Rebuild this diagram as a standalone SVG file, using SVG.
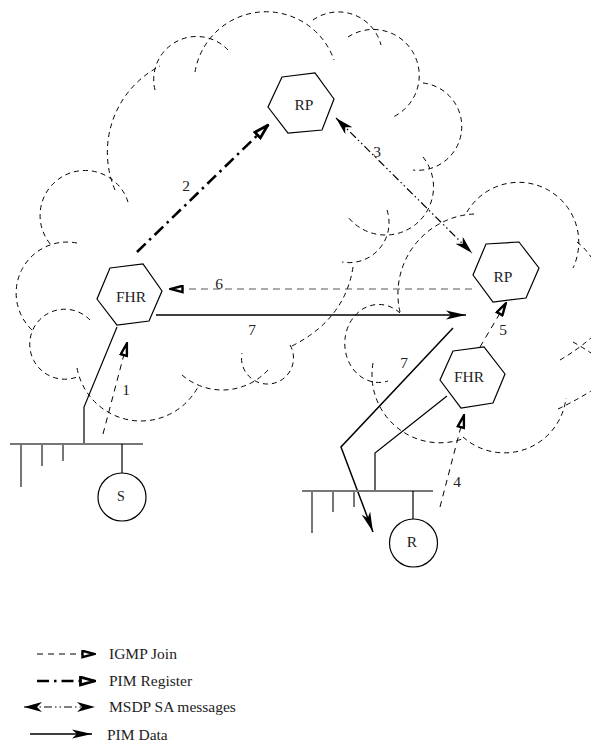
<svg xmlns="http://www.w3.org/2000/svg" width="591" height="743" viewBox="0 0 591 743">
<style>
.cloud{fill:none;stroke:#000;stroke-width:1;stroke-dasharray:5 4}
.hex{fill:#fff;stroke:#000;stroke-width:1.2}
.lbl{font-family:"Liberation Serif",serif;font-size:15.5px;fill:#222;text-anchor:middle}
.leg{font-family:"Liberation Serif",serif;font-size:15.5px;fill:#222}
.igmp{fill:none;stroke:#000;stroke-width:1;stroke-dasharray:6 5}
.reg{fill:none;stroke:#000;stroke-width:2.6;stroke-dasharray:12 5 2.5 5}
.msdp{fill:none;stroke:#000;stroke-width:1.2;stroke-dasharray:8 3 1.5 3 1.5 3}
.data{fill:none;stroke:#000;stroke-width:1.5}
.wire{fill:none;stroke:#000;stroke-width:1.2}
.bus{fill:none;stroke:#777;stroke-width:2}
</style>
<defs>
<marker id="mIgmp" viewBox="0 0 15 9" refX="14" refY="4.5" markerWidth="15" markerHeight="9" orient="auto" markerUnits="userSpaceOnUse">
<path d="M1.5,1.3 L13.5,4.5 L1.5,7.7 z" fill="#fff" stroke="#000" stroke-width="2.4"/>
</marker>
<marker id="mReg" viewBox="0 0 17 11" refX="16" refY="5.5" markerWidth="17" markerHeight="11" orient="auto" markerUnits="userSpaceOnUse">
<path d="M1.5,1.6 L15.5,5.5 L1.5,9.4 z" fill="#fff" stroke="#000" stroke-width="2.8"/>
</marker>
<marker id="mMsdp" viewBox="0 0 18 10" refX="18" refY="5" markerWidth="18" markerHeight="10" orient="auto-start-reverse" markerUnits="userSpaceOnUse">
<path d="M0,0 L18,5 L0,10 L5,5 z" fill="#000"/>
</marker>
<marker id="mData" viewBox="0 0 20 10" refX="20" refY="5" markerWidth="20" markerHeight="10" orient="auto" markerUnits="userSpaceOnUse">
<path d="M0,0.5 L20,5 L0,9.5 L5,5 z" fill="#000"/>
</marker>
</defs>

<g id="clouds">
<path class="cloud" d="M128,202 A45,45 0 1 0 52,246"/>
<path class="cloud" d="M115,190 A97,97 0 0 1 160,66"/>
<path class="cloud" d="M155,90 A43,43 0 0 1 228,50"/>
<path class="cloud" d="M195,72 A72,72 0 0 1 334,60"/>
<path class="cloud" d="M313,20 A44,44 0 0 1 381,45"/>
<path class="cloud" d="M348,37 A46,46 0 1 1 393,117"/>
<path class="cloud" d="M423,83 A43,43 0 0 1 413,170"/>
<path class="cloud" d="M423,157 A45,45 0 1 1 348,217"/>
<path class="cloud" d="M387,210 A40,40 0 0 1 342,262"/>
<path class="cloud" d="M353,267 Q345,320 290,347"/>
<path class="cloud" d="M290,345 A26,26 0 1 1 242,353"/>
<path class="cloud" d="M182,375 A62,62 0 0 0 268,370"/>
<path class="cloud" d="M77,368 A65,65 0 0 0 198,387"/>
<path class="cloud" d="M90,320 A35,35 0 1 0 77,377"/>
<path class="cloud" d="M77,243 A51,51 0 0 0 32,330"/>
<path class="cloud" d="M467,212 A60,60 0 0 1 573,268"/>
<path class="cloud" d="M474,214 A80,80 0 0 0 400,312"/>
<path class="cloud" d="M400,313 A34,39 0 1 0 388,381"/>
<path class="cloud" d="M373,363 A68,68 0 0 0 465,438"/>
<path class="cloud" d="M463,437 A62,62 0 0 0 566,398"/>
<path class="cloud" d="M558,409 Q575,401 591,391"/>
<path class="cloud" d="M560,360 Q577,350 591,338"/>
<path class="cloud" d="M573,342 Q582,347 591,353"/>
<path class="cloud" d="M577,242 Q585,248 591,257"/>
</g>

<g id="connectors">
<line class="igmp" x1="103" y1="434" x2="127" y2="343" marker-end="url(#mIgmp)"/>
<line class="reg" x1="137" y1="252" x2="268" y2="125" marker-end="url(#mReg)"/>
<line class="msdp" x1="336" y1="118" x2="472" y2="253" marker-start="url(#mMsdp)" marker-end="url(#mMsdp)"/>
<line class="igmp" x1="440" y1="507" x2="464" y2="415" marker-end="url(#mIgmp)"/>
<line class="igmp" x1="480" y1="347" x2="506" y2="303" marker-end="url(#mIgmp)"/>
<line class="igmp" style="stroke:#555;stroke-dasharray:7 5" x1="472" y1="289" x2="170" y2="289" marker-end="url(#mIgmp)"/>
<line class="data" x1="156" y1="315" x2="466" y2="315" marker-end="url(#mData)"/>
<polyline class="data" points="453,328 341,447 373,532" marker-end="url(#mData)"/>
<polyline class="wire" points="117,327 84,407 84,444"/>
<polyline class="wire" points="447,396 375,453 375,491"/>
<text class="lbl" x="126" y="395">1</text>
<text class="lbl" x="186" y="191">2</text>
<text class="lbl" x="377" y="157">3</text>
<text class="lbl" x="457" y="487">4</text>
<text class="lbl" x="503" y="335">5</text>
<text class="lbl" x="219" y="289">6</text>
<text class="lbl" x="252" y="335">7</text>
<text class="lbl" x="404" y="368">7</text>
</g>

<g id="rp-top">
<polygon class="hex" points="282,77 315,73 334,99 322,130 288,133 268,107"/>
<text class="lbl" x="304" y="110">RP</text>
</g>
<g id="fhr-left">
<polygon class="hex" points="110,268 143,264 162,291 149,321 117,325 97,299"/>
<text class="lbl" x="131" y="302">FHR</text>
</g>
<g id="rp-right">
<polygon class="hex" points="486,244 519,242 539,268 526,298 493,302 473,275"/>
<text class="lbl" x="503" y="282">RP</text>
</g>
<g id="fhr-right">
<polygon class="hex" points="453,351 484,347 505,374 493,403 461,408 440,380"/>
<text class="lbl" x="469" y="382">FHR</text>
</g>

<g id="lan-left">
<line class="bus" x1="10" y1="444" x2="143" y2="444"/>
<line class="bus" x1="21" y1="444" x2="21" y2="487"/>
<line class="bus" x1="42" y1="444" x2="42" y2="466"/>
<line class="bus" x1="63" y1="444" x2="63" y2="461"/>
</g>
<g id="source-s">
<line class="wire" x1="122" y1="444" x2="122" y2="473"/>
<circle cx="122" cy="497" r="24" fill="#fff" stroke="#000" stroke-width="1.2"/>
<text class="lbl" x="121" y="501" style="font-size:14px">S</text>
</g>
<g id="lan-right">
<line class="bus" x1="302" y1="491" x2="433" y2="491"/>
<line class="bus" x1="312" y1="491" x2="312" y2="533"/>
<line class="bus" x1="333" y1="491" x2="333" y2="512"/>
<line class="bus" x1="354" y1="491" x2="354" y2="507"/>
</g>
<g id="receiver-r">
<line class="wire" x1="413" y1="491" x2="413" y2="519"/>
<circle cx="413.5" cy="543" r="24" fill="#fff" stroke="#000" stroke-width="1.2"/>
<text class="lbl" x="412" y="547">R</text>
</g>

<g id="legend">
<line class="igmp" x1="37" y1="654" x2="95" y2="654" marker-end="url(#mIgmp)"/>
<text class="leg" x="109" y="659">IGMP Join</text>
<line class="reg" x1="37" y1="681" x2="95" y2="681" marker-end="url(#mReg)"/>
<text class="leg" x="109" y="686">PIM Register</text>
<line class="msdp" x1="24" y1="707" x2="95" y2="707" marker-start="url(#mMsdp)" marker-end="url(#mMsdp)"/>
<text class="leg" x="109" y="712">MSDP SA messages</text>
<line class="data" x1="30" y1="734" x2="92" y2="734" marker-end="url(#mData)"/>
<text class="leg" x="107" y="740">PIM Data</text>
</g>
</svg>
